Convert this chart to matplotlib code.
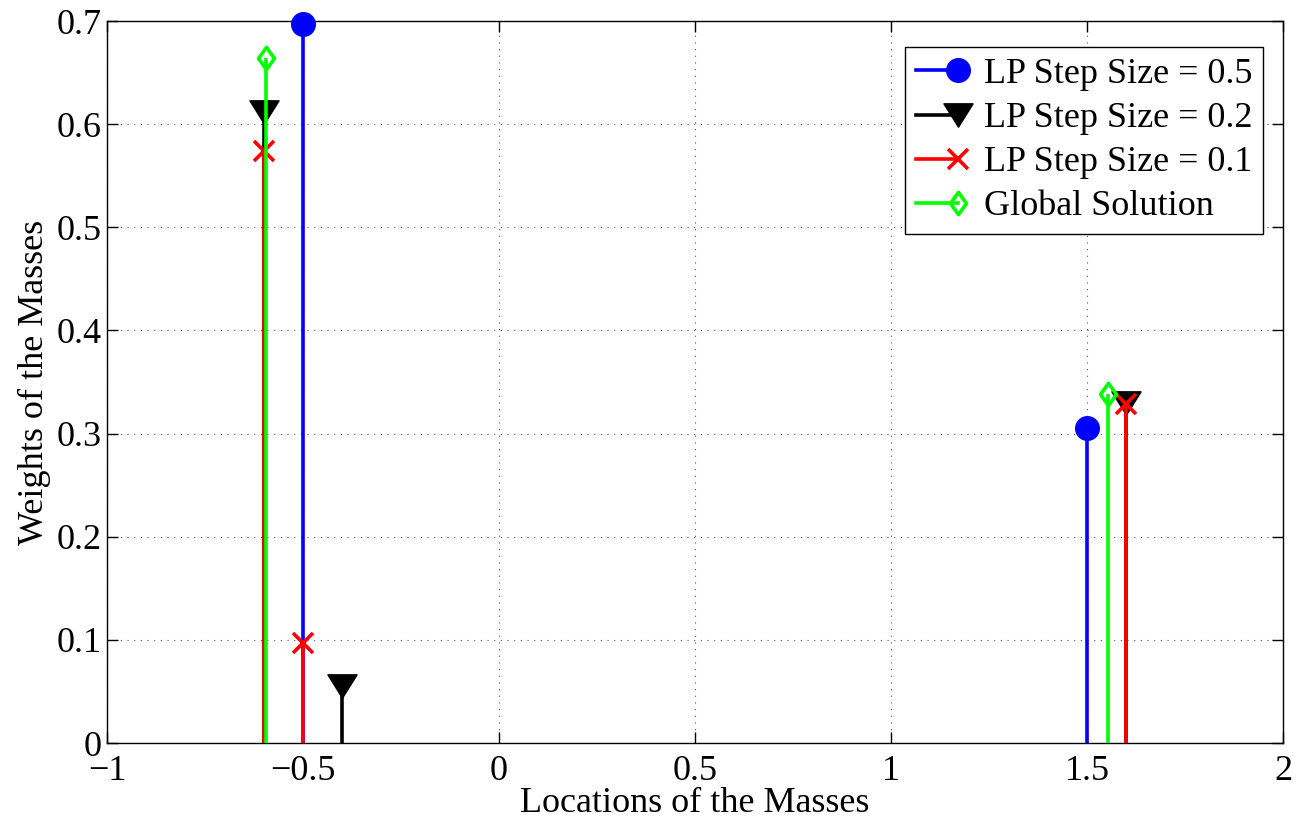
import matplotlib
matplotlib.use("Agg")
import matplotlib.pyplot as plt
from matplotlib.lines import Line2D
from matplotlib.legend_handler import HandlerBase
from matplotlib.path import Path

plt.rcParams['font.family'] = ['Liberation Serif', 'DejaVu Serif']

# Data
x_step05 = [-0.5, 1.5]
w_step05 = [0.697, 0.305]
x_step02 = [-0.6, -0.4, 1.6]
w_step02 = [0.612, 0.055, 0.330]
x_step01 = [-0.6, -0.5, 1.6]
w_step01 = [0.574, 0.097, 0.329]
x_global = [-0.594, 1.554]
w_global = [0.664, 0.338]

labels = ['LP Step Size = 0.5', 'LP Step Size = 0.2', 'LP Step Size = 0.1', 'Global Solution']
xticks = [-1, -0.5, 0, 0.5, 1, 1.5, 2]
xticklabels = ['\u22121', '\u22120.5', '0', '0.5', '1', '1.5', '2']
yticks = [0, 0.1, 0.2, 0.3, 0.4, 0.5, 0.6, 0.7]
yticklabels = ['0', '0.1', '0.2', '0.3', '0.4', '0.5', '0.6', '0.7']

tri_down = Path([(-1, 0.8), (1, 0.8), (0, -0.8), (-1, 0.8)],
                [Path.MOVETO, Path.LINETO, Path.LINETO, Path.CLOSEPOLY])
diamond = Path([(0, 1), (0.72, 0), (0, -1), (-0.72, 0), (0, 1)],
               [Path.MOVETO, Path.LINETO, Path.LINETO, Path.LINETO, Path.CLOSEPOLY])

# (x, y, color, marker, facecolor, size, edgewidth)
series = [
    (x_step05, w_step05, '#0000ff', 'o', '#0000ff', 17, 1),
    (x_step02, w_step02, '#000000', tri_down, '#000000', 21, 1),
    (x_step01, w_step01, '#ff0000', 'x', '#ff0000', 15, 2.6),
    (x_global, w_global, '#00ff00', diamond, 'none', 16, 2.6),
]

fig = plt.figure(figsize=(13.06, 8.27), dpi=100)
ax = fig.add_axes([107/1306, 1 - 743/827, (1283-107)/1306, (743-21)/827])

handles = []
for i, (xs, ws, c, m, fc, ms, mew) in enumerate(series):
    ax.vlines(xs, 0, ws, colors=c, linewidth=2.6, zorder=3 + i)
    ax.plot(xs, ws, linestyle='none', marker=m, markersize=ms, color=c,
            markerfacecolor=fc, markeredgecolor=c, markeredgewidth=mew,
            zorder=3 + i, clip_on=False)
    handles.append(Line2D([], [], color=c, linewidth=2.6, marker=m, markersize=ms,
                          markerfacecolor=fc, markeredgecolor=c, markeredgewidth=mew))


class RightMarkerHandler(HandlerBase):
    def create_artists(self, legend, orig_handle, xdescent, ydescent,
                       width, height, fontsize, trans):
        y = height / 2 - ydescent
        x0 = -xdescent
        x1 = -xdescent + width
        line = Line2D([x0, x1], [y, y], color=orig_handle.get_color(),
                      linewidth=orig_handle.get_linewidth())
        mk = Line2D([x1], [y], linestyle='none', marker=orig_handle.get_marker(),
                    markersize=orig_handle.get_markersize(),
                    markerfacecolor=orig_handle.get_markerfacecolor(),
                    markeredgecolor=orig_handle.get_markeredgecolor(),
                    markeredgewidth=orig_handle.get_markeredgewidth())
        line.set_transform(trans)
        mk.set_transform(trans)
        return [line, mk]


ax.set_xlim(-1, 2)
ax.set_ylim(0, 0.7)
ax.set_xticks(xticks)
ax.set_xticklabels(xticklabels)
ax.set_yticks(yticks)
ax.set_yticklabels(yticklabels)
ax.tick_params(direction='in', length=8, width=1, top=True, right=True, labelsize=26)
ax.tick_params(axis='x', pad=9)
ax.tick_params(axis='y', pad=4)
ax.grid(True, linestyle=(0, (1, 5)), color='#555555', linewidth=0.8)
for s in ax.spines.values():
    s.set_linewidth(1)

ax.set_xlabel('Locations of the Masses', fontsize=26, labelpad=-1)
ax.set_ylabel('Weights of the Masses', fontsize=26, labelpad=4)

leg = ax.legend(handles, labels, loc='upper right', fontsize=26,
                handler_map={h: RightMarkerHandler() for h in handles},
                handlelength=1.17, handletextpad=0.7, borderpad=0.3, labelspacing=0.3,
                borderaxespad=0, fancybox=False, framealpha=1, edgecolor='black',
                bbox_to_anchor=(1263/1306, 1 - 47/827), bbox_transform=fig.transFigure)
leg.get_frame().set_linewidth(1)

fig.savefig('out.png', dpi=100)
